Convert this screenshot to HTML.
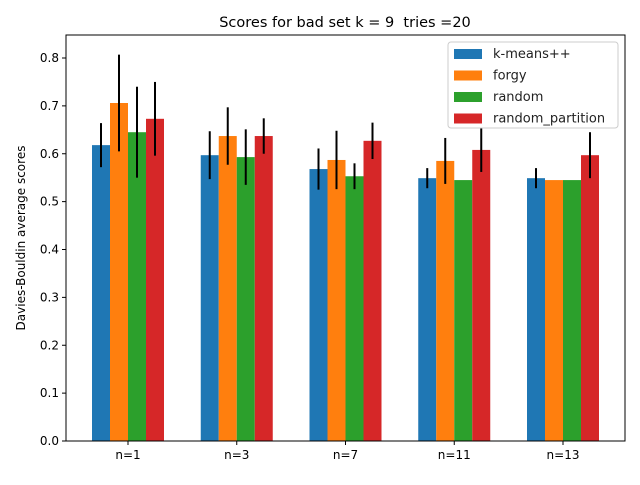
<!DOCTYPE html>
<html><head><meta charset="utf-8"><style>
body{margin:0;background:#fff;font-family:"Liberation Sans","DejaVu Sans",sans-serif}
svg text{font-family:"DejaVu Sans","Liberation Sans",sans-serif}
</style></head><body>
<svg id="chart" width="640" height="480" xmlns="http://www.w3.org/2000/svg">
<rect width="640" height="480" fill="#fff"/>
<text x="345" y="27" font-size="14.5" text-anchor="middle" style="white-space:pre">Scores for bad set k = 9  tries =20</text>
<text transform="translate(25,238) rotate(-90)" font-size="12" text-anchor="middle">Davies-Bouldin average scores</text>
<g id="marks"></g>
<g id="axes"></g>
</svg>
<script>
const categories = ["n=1","n=3","n=7","n=11","n=13"];
const seriesNames = ["k-means++","forgy","random","random_partition"];
const colors = ["#1f77b4","#ff7f0e","#2ca02c","#d62728"];
const kmeansVals = [0.618,0.597,0.568,0.549,0.549];
const forgyVals = [0.706,0.637,0.587,0.585,0.545];
const randomVals = [0.645,0.593,0.553,0.545,0.545];
const partitionVals = [0.673,0.637,0.627,0.608,0.597];
const kmeansErr = [0.046,0.050,0.043,0.021,0.021];
const forgyErr = [0.101,0.060,0.061,0.048,0];
const randomErr = [0.095,0.058,0.027,0,0];
const partitionErr = [0.077,0.037,0.038,0.046,0.048];
const yTicks = [0,0.1,0.2,0.3,0.4,0.5,0.6,0.7,0.8];

const NS="http://www.w3.org/2000/svg";
const L=66,R=625,T=35,B=441;
const yS=v=>B-v*478.75;
const xS=i=>128+108.75*i;
const bw=18;
const marks=document.getElementById('marks'), axes=document.getElementById('axes');
function mk(tag,attrs,parent){const e=document.createElementNS(NS,tag);for(const k in attrs)e.setAttribute(k,attrs[k]);parent.appendChild(e);return e;}
const vals=[kmeansVals,forgyVals,randomVals,partitionVals];
const errs=[kmeansErr,forgyErr,randomErr,partitionErr];
vals.forEach((arr,s)=>{arr.forEach((v,i)=>{
  const x=xS(i)-2*bw+s*bw;
  const r=mk('rect',{x:x,y:yS(v),width:bw,height:B-yS(v),fill:colors[s]},marks);
  
  
  const e=errs[s][i];
  if(e>0){const l=mk('line',{x1:x+bw/2,x2:x+bw/2,y1:yS(v+e),y2:yS(v-e),stroke:'#000','stroke-width':2},marks);
    
    }
});});
mk('rect',{x:L,y:T,width:R-L,height:B-T,fill:'none',stroke:'#000','stroke-width':1},axes);
yTicks.forEach(t=>{const y=yS(t);
  mk('line',{x1:L-4,x2:L,y1:y,y2:y,stroke:'#000'},axes);
  const tx=mk('text',{x:L-7,y:y+4,'font-size':12,'text-anchor':'end'},axes);tx.textContent=t.toFixed(1);
  
  });
categories.forEach((c,i)=>{const x=xS(i);
  mk('line',{x1:x,x2:x,y1:B,y2:B+4,stroke:'#000'},axes);
  const tx=mk('text',{x:x,y:B+18,'font-size':12,'text-anchor':'middle'},axes);tx.textContent=c;
  
  });
const lg=mk('g',{},axes);


mk('rect',{x:448,y:42,width:170,height:86,rx:3,fill:'#fff','fill-opacity':0.8,stroke:'#ccc'},lg);
seriesNames.forEach((n,s)=>{const y=53+s*21.5;
  mk('rect',{x:454,y:y-4,width:28,height:10,fill:colors[s]},lg);
  const tx=mk('text',{x:493,y:y+5,'font-size':13,fill:'#222'},lg);tx.textContent=n;
  
  });
</script>
</body></html>
